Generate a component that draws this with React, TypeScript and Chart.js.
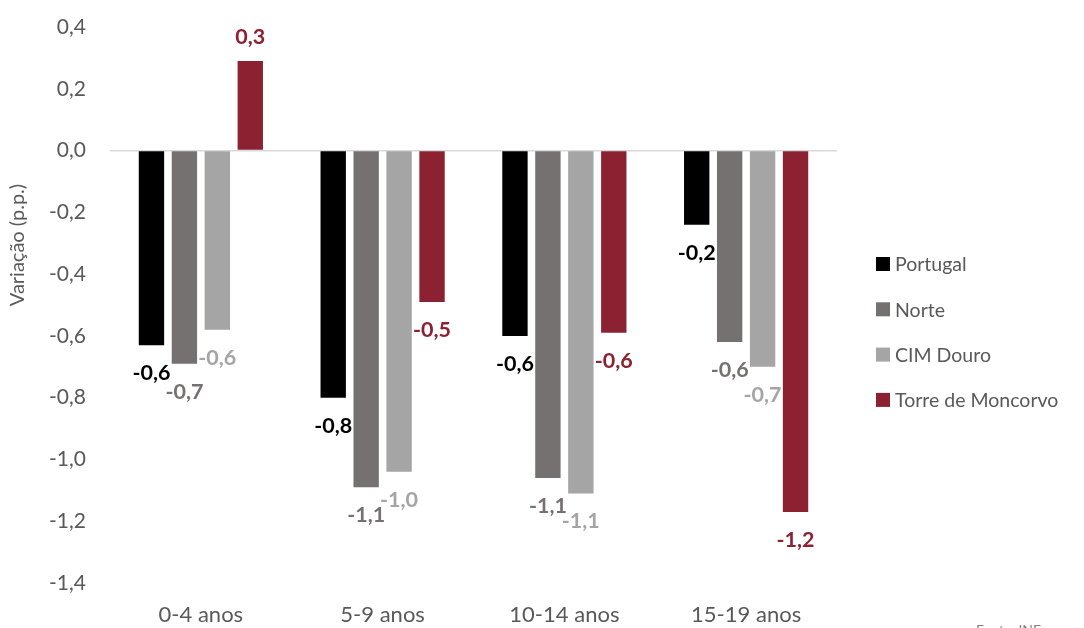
import React, { useEffect, useRef } from "react";
import { Chart, registerables } from "chart.js";

Chart.register(...registerables);

// Age groups on the x axis
const categories = ["0-4 anos", "5-9 anos", "10-14 anos", "15-19 anos"];

// Variation (percentage points) per territory
const seriesNames = ["Portugal", "Norte", "CIM Douro", "Torre de Moncorvo"];
const portugal = [-0.63, -0.8, -0.6, -0.24];
const norte = [-0.69, -1.09, -1.06, -0.62];
const cimDouro = [-0.58, -1.04, -1.11, -0.7];
const torreMoncorvo = [0.29, -0.49, -0.59, -1.17];

// Y axis range and tick spacing
const yMin = -1.4;
const yMax = 0.4;
const yStep = 0.2;

const seriesColors = ["#000000", "#767171", "#A5A5A5", "#8B2131"];
const axisTitle = "Variação (p.p.)";
const sourceNote = "Fonte: INE";

const FONT = "Lato, 'Open Sans', sans-serif";
const TEXT_GREY = "#595959";
const CLEAR = "rgba(0,0,0,0)";

const fmt = (v: number) => v.toFixed(1).replace(".", ",");

// Value labels at the outer end of each bar
const valueLabels = {
  id: "valueLabels",
  afterDatasetsDraw(chart: any) {
    const ctx = chart.ctx;
    ctx.save();
    ctx.font = `bold 21.5px ${FONT}`;
    ctx.textAlign = "center";
    ctx.textBaseline = "middle";
    chart.data.datasets.forEach((ds: any, i: number) => {
      const meta = chart.getDatasetMeta(i);
      meta.data.forEach((el: any, j: number) => {
        const v = ds.data[j] as number;
        ctx.fillStyle = seriesColors[i];
        const y = v < 0 ? el.y + 28 : el.y - 24;
        ctx.fillText(fmt(v), el.x, y);
      });
    });
    ctx.restore();
  },
};

// Vertical legend to the right of the plot, plus axis title and source
const sideDecor = {
  id: "sideDecor",
  afterDraw(chart: any) {
    const ctx = chart.ctx;
    const area = chart.chartArea;
    ctx.save();
    // legend
    ctx.font = `19.5px ${FONT}`;
    ctx.textBaseline = "middle";
    ctx.textAlign = "left";
    const lx = area.right + 39;
    const ly0 = area.top + 237;
    const gap = 45.3;
    chart.data.datasets.forEach((ds: any, i: number) => {
      const y = ly0 + i * gap;
      ctx.fillStyle = seriesColors[i];
      ctx.fillRect(lx, y - 7, 14, 14);
      ctx.fillStyle = TEXT_GREY;
      ctx.fillText(ds.label, lx + 19, y + 1);
    });
    // y axis title
    ctx.font = `20px ${FONT}`;
    ctx.translate(10, area.top + 218);
    ctx.rotate(-Math.PI / 2);
    ctx.textAlign = "center";
    ctx.fillStyle = TEXT_GREY;
    ctx.fillText(axisTitle, 0, 0);
    ctx.restore();
    // source note at the bottom right
    ctx.save();
    ctx.font = `14px ${FONT}`;
    ctx.fillStyle = "#7f7f7f";
    ctx.textAlign = "left";
    ctx.textBaseline = "top";
    ctx.fillText(sourceNote, area.right + 139, chart.height - 5);
    ctx.restore();
  },
};

export default function App() {
  const ref = useRef<HTMLCanvasElement | null>(null);

  useEffect(() => {
    if (!ref.current) return;
    const series = [portugal, norte, cimDouro, torreMoncorvo];
    const chart = new Chart(ref.current, {
      type: "bar",
      data: {
        labels: categories,
        datasets: series.map((d, i) => ({
          label: seriesNames[i],
          data: d,
          backgroundColor: seriesColors[i],
          borderWidth: 0,
          categoryPercentage: 0.725,
          barPercentage: 0.77,
        })),
      },
      options: {
        animation: false,
        responsive: false,
        maintainAspectRatio: false,
        layout: { padding: { top: 19, right: 247, bottom: 0, left: 0 } },
        plugins: {
          legend: { display: false },
          tooltip: { enabled: false },
        },
        scales: {
          x: {
            grid: { display: false, drawTicks: false },
            border: { display: false },
            ticks: {
              color: TEXT_GREY,
              font: { family: FONT, size: 22 },
              padding: 19,
            },
            afterFit(scale: any) {
              scale.height = 45;
            },
          },
          y: {
            min: yMin,
            max: yMax,
            border: { display: false },
            grid: {
              drawTicks: true,
              tickLength: 24,
              tickColor: CLEAR,
              color: (c: any) =>
                c.tick && Math.abs(c.tick.value) < 1e-9 ? "#D9D9D9" : CLEAR,
              lineWidth: 1.5,
            },
            ticks: {
              stepSize: yStep,
              color: TEXT_GREY,
              font: { family: FONT, size: 21 },
              padding: 0,
              callback: (v: any) => fmt(Number(v)),
            },
            afterFit(scale: any) {
              scale.width = 102;
            },
          },
        },
      },
      plugins: [valueLabels, sideDecor],
    });
    return () => chart.destroy();
  }, []);

  return (
    <div style={{ width: 1076, height: 620 }}>
      <canvas ref={ref} width={1076} height={620} style={{ display: "block" }} />
    </div>
  );
}
